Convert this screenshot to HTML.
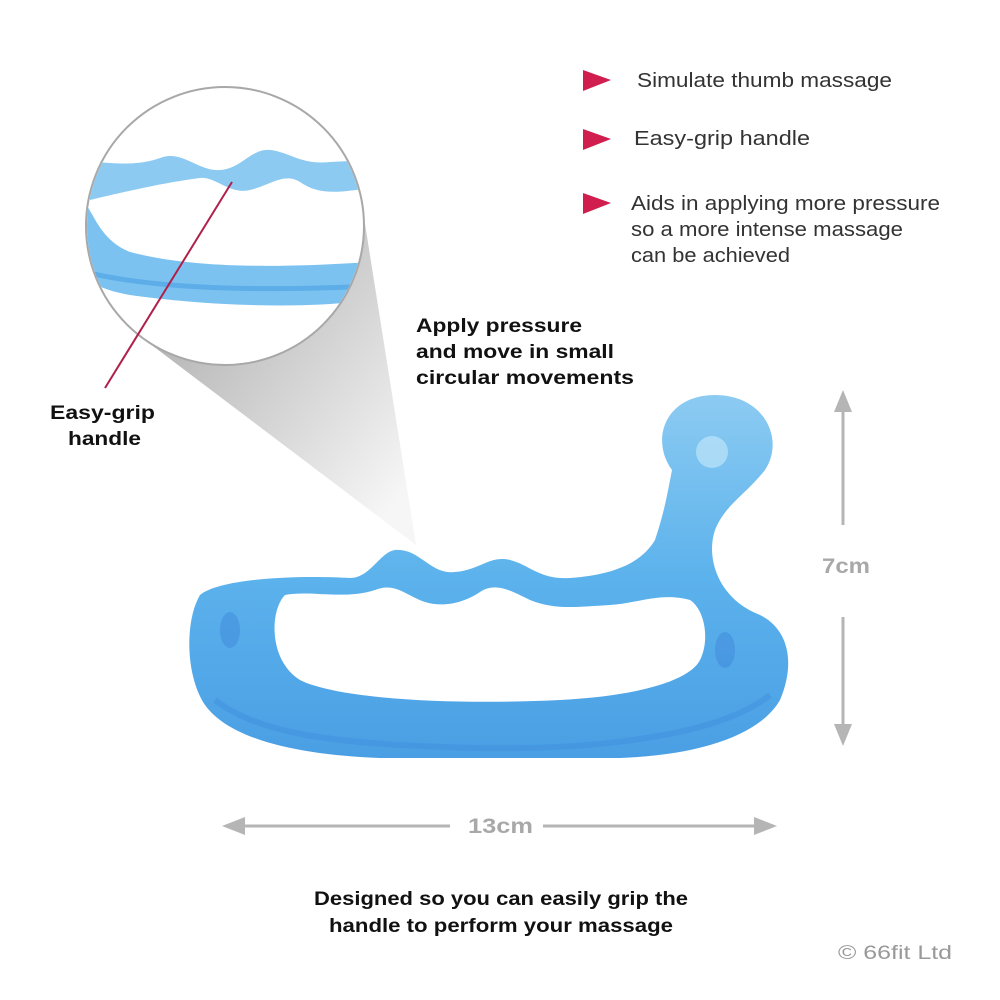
<!DOCTYPE html>
<html><head><meta charset="utf-8"><style>
html,body{margin:0;padding:0;background:#fff}
svg{display:block}
text{font-family:"Liberation Sans","DejaVu Sans",sans-serif}
</style></head><body>
<svg width="1000" height="1000" viewBox="0 0 1000 1000" xmlns="http://www.w3.org/2000/svg">
<defs>
<linearGradient id="cone" x1="0.1" y1="0.1" x2="0.9" y2="0.9">
<stop offset="0" stop-color="#a9a9a9"/><stop offset="1" stop-color="#f6f6f6"/>
</linearGradient>
<linearGradient id="blue" x1="0" y1="0" x2="0" y2="1">
<stop offset="0" stop-color="#8ccbf2"/><stop offset="0.5" stop-color="#5cb2ec"/><stop offset="1" stop-color="#4a9fe4"/>
</linearGradient>
</defs>
<polygon points="141,337 362,205 416,545" fill="url(#cone)"/>
<circle cx="225" cy="226" r="139" fill="#fff" stroke="#a8a8a8" stroke-width="2"/>
<clipPath id="cc"><circle cx="225" cy="226" r="138"/></clipPath>
<g clip-path="url(#cc)">
<path d="M80,160 C120,165 140,165 160,158 C180,150 195,168 215,170 C240,172 250,148 270,150 C290,152 300,165 330,162 L370,160 L370,188 C340,192 320,196 300,182 C285,172 270,185 250,190 C230,195 215,176 200,178 C170,182 140,188 90,200 Z" fill="#8ccaf2"/>
<path d="M80,195 C95,215 100,240 130,252 C180,265 250,270 370,262 L370,300 C300,310 200,305 130,295 C100,290 85,280 80,270 Z" fill="#7cc2f0"/>
<path d="M85,272 C150,288 250,292 370,286" stroke="#4a9fe4" stroke-width="5" fill="none" opacity=".6"/>
</g>
<line x1="232" y1="182" x2="105" y2="388" stroke="#b0204a" stroke-width="2"/>
<path fill-rule="evenodd" fill="url(#blue)" d="M200,595 C220,578 300,575 350,578 C370,578 380,552 395,550 C420,548 430,575 455,572 C480,570 490,555 510,560 C530,565 540,580 570,578 C610,575 640,565 655,540 C665,510 668,490 672,470 C650,440 665,395 715,395 C765,395 785,440 765,470 C745,495 725,505 715,530 C705,560 720,600 760,615 C790,630 795,665 780,700 C760,735 700,755 620,758 L380,758 C300,755 230,740 205,705 C185,675 185,620 200,595 Z
M285,595 C270,610 268,660 300,680 C340,700 460,705 560,700 C640,696 690,680 700,660 C710,640 705,610 690,600 C660,592 640,603 610,605 C575,607 555,610 530,600 C510,590 495,582 480,592 C465,602 445,608 425,602 C405,595 395,582 375,590 C345,600 310,590 285,595 Z"/>
<path d="M215,700 C260,735 340,745 480,748 C600,750 720,735 770,695" stroke="#3d8fdc" stroke-width="6" fill="none" opacity=".45"/>
<circle cx="712" cy="452" r="16" fill="#b5e0f8" opacity=".8"/>
<ellipse cx="230" cy="630" rx="10" ry="18" fill="#3a80d8" opacity=".4"/>
<ellipse cx="725" cy="650" rx="10" ry="18" fill="#3a80d8" opacity=".4"/>
<g fill="#b5b5b5" stroke="#b5b5b5">
<line x1="843" y1="400" x2="843" y2="525" stroke-width="3"/>
<line x1="843" y1="617" x2="843" y2="735" stroke-width="3"/>
<polygon points="843,390 834,412 852,412" stroke="none"/>
<polygon points="843,746 834,724 852,724" stroke="none"/>
<line x1="235" y1="826" x2="450" y2="826" stroke-width="3"/>
<line x1="543" y1="826" x2="765" y2="826" stroke-width="3"/>
<polygon points="222,826 245,817 245,835" stroke="none"/>
<polygon points="777,826 754,817 754,835" stroke="none"/>
</g>
<text x="822" y="573" font-size="21" fill="#a8a8a8" font-weight="bold" textLength="48" lengthAdjust="spacingAndGlyphs">7cm</text>
<text x="468" y="833" font-size="21" fill="#a8a8a8" font-weight="bold" textLength="65" lengthAdjust="spacingAndGlyphs">13cm</text>
<g fill="#d01f4f">
<polygon points="583,70 611,80 583,91"/>
<polygon points="583,129 611,139 583,150"/>
<polygon points="583,193 611,203 583,214"/>
</g>
<g font-size="20" fill="#333">
<text x="637" y="87" textLength="255" lengthAdjust="spacingAndGlyphs">Simulate thumb massage</text>
<text x="634" y="145" textLength="176" lengthAdjust="spacingAndGlyphs">Easy-grip handle</text>
<text x="631" y="210" textLength="309" lengthAdjust="spacingAndGlyphs">Aids in applying more pressure</text>
<text x="631" y="236" textLength="272" lengthAdjust="spacingAndGlyphs">so a more intense massage</text>
<text x="631" y="262" textLength="159" lengthAdjust="spacingAndGlyphs">can be achieved</text>
</g>
<g font-size="19" fill="#111" font-weight="bold">
<text x="416" y="332" textLength="166" lengthAdjust="spacingAndGlyphs">Apply pressure</text>
<text x="416" y="358" textLength="198" lengthAdjust="spacingAndGlyphs">and move in small</text>
<text x="416" y="384" textLength="218" lengthAdjust="spacingAndGlyphs">circular movements</text>
<text x="50" y="419" textLength="105" lengthAdjust="spacingAndGlyphs">Easy-grip</text>
<text x="68" y="445" textLength="73" lengthAdjust="spacingAndGlyphs">handle</text>
<text x="314" y="905" textLength="374" lengthAdjust="spacingAndGlyphs">Designed so you can easily grip the</text>
<text x="329" y="932" textLength="344" lengthAdjust="spacingAndGlyphs">handle to perform your massage</text>
</g>
<text x="838" y="959" font-size="19" fill="#999" textLength="114" lengthAdjust="spacingAndGlyphs">© 66fit Ltd</text>
</svg>
</body></html>
